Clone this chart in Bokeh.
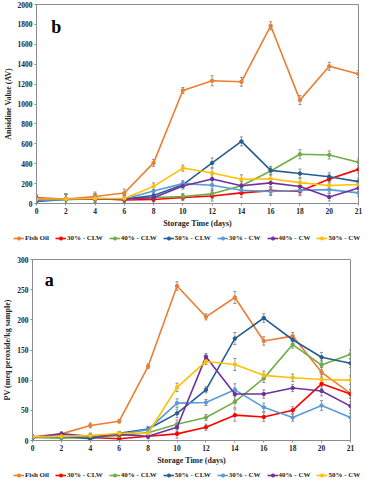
from bokeh.plotting import figure
from bokeh.layouts import column
from bokeh.models import (FixedTicker, Legend, LegendItem, Whisker, ColumnDataSource,
                          Label, Range1d)
from bokeh.embed import file_html
from bokeh.resources import INLINE

# ---------------- data ----------------
days = ["0", "2", "4", "6", "8", "10", "12", "14", "16", "18", "20", "21"]
series_names = ["Fish Oil", "30% - CLW", "40% - CLW", "50% - CLW", "30% - CW", "40% - CW", "50% - CW"]
series_colors = ["#ED7D31", "#FF0000", "#70AD47", "#255E91", "#5B9BD5", "#7030A0", "#FFC000"]

# (b) Anisidine value
av_fish_oil = [50, 45, 70, 105, 408, 1136, 1233, 1223, 1786, 1039, 1379, 1301]
av_30_clw = [55, 45, 50, 35, 40, 60, 75, 107, 129, 123, 246, 343]
av_40_clw = [40, 45, 50, 45, 60, 70, 97, 178, 327, 495, 488, 414]
av_50_clw = [20, 40, 45, 45, 81, 188, 408, 624, 333, 301, 269, 220]
av_30_cw = [30, 40, 50, 45, 126, 200, 184, 133, 120, 133, 139, 107]
av_40_cw = [40, 45, 45, 45, 58, 175, 246, 178, 207, 171, 65, 155]
av_50_cw = [45, 45, 50, 50, 172, 356, 307, 243, 249, 210, 181, 191]
av_err = [30, 50, 45, 40, 35, 30, 50, 45, 40, 45, 40, 35]

# (a) Peroxide value
pv_fish_oil = [6, 11, 25, 32, 123, 256, 205, 237, 165, 173, 113, 78]
pv_30_clw = [6, 5, 5, 3, 7, 11, 22, 42, 39, 50, 94, 77]
pv_40_clw = [5, 4, 6, 8, 13, 27, 38, 64, 103, 159, 125, 143]
pv_50_clw = [5, 7, 3, 12, 19, 45, 84, 169, 203, 167, 138, 128]
pv_30_cw = [6, 6, 8, 10, 18, 62, 63, 84, 55, 38, 58, 38]
pv_40_cw = [5, 11, 7, 10, 7, 22, 139, 77, 77, 87, 82, 57]
pv_50_cw = [6, 7, 8, 12, 12, 88, 131, 126, 108, 104, 101, 100]
pv_err = [3, 3, 4, 3, 4, 7, 5, 10, 7, 6, 8, 7]

FONT = "Liberation Serif"
TXT = "#262626"
GRAY = "#8C8C8C"


def make_chart(series, err, ymax, yticks, ylabel, letter, letter_pos, height,
               border_top, border_left, border_right):
    p = figure(width=364, height=height, output_backend="svg", toolbar_location=None,
               x_range=Range1d(0, len(days) - 1), y_range=Range1d(0, ymax),
               min_border_top=border_top, min_border_left=border_left,
               min_border_right=border_right, min_border_bottom=24)
    p.frame_align = False
    p.grid.visible = False
    p.outline_line_color = GRAY
    p.outline_line_width = 1
    p.background_fill_color = "white"
    p.border_fill_color = "white"

    xs = list(range(len(days)))
    for name, color, ys in zip(series_names, series_colors, series):
        lo = [y - e for y, e in zip(ys, err)]
        hi = [y + e for y, e in zip(ys, err)]
        src = ColumnDataSource(dict(x=xs, y=ys, lo=lo, hi=hi))
        w = Whisker(base="x", lower="lo", upper="hi", source=src,
                    line_color=GRAY, line_width=0.8)
        w.upper_head.size = 3
        w.lower_head.size = 3
        w.upper_head.line_color = GRAY
        w.lower_head.line_color = GRAY
        p.add_layout(w)
    for name, color, ys in zip(series_names, series_colors, series):
        src = ColumnDataSource(dict(x=xs, y=ys))
        p.line("x", "y", source=src, line_color=color, line_width=1.6)
        p.scatter("x", "y", source=src, marker="circle", size=3.5,
                  fill_color=color, line_color=color)

    p.xaxis.ticker = FixedTicker(ticks=xs)
    p.xaxis.major_label_overrides = {i: d for i, d in enumerate(days)}
    p.yaxis.ticker = FixedTicker(ticks=yticks)
    for ax in (p.xaxis[0], p.yaxis[0]):
        ax.axis_line_color = GRAY
        ax.major_tick_line_color = GRAY
        ax.major_tick_out = 2
        ax.major_tick_in = 0
        ax.minor_tick_line_color = None
        ax.major_label_text_font = FONT
        ax.major_label_text_font_style = "bold"
        ax.major_label_text_font_size = "7.5px"
        ax.major_label_text_color = TXT
        ax.major_label_standoff = 2
        ax.axis_label_text_font = FONT
        ax.axis_label_text_font_style = "bold"
        ax.axis_label_text_font_size = "8px"
        ax.axis_label_text_color = TXT
        ax.axis_label_standoff = 2
    p.xaxis.axis_label = "Storage Time (days)"
    p.yaxis.axis_label = ylabel

    p.add_layout(Label(x=letter_pos[0], y=letter_pos[1], text=letter,
                       text_font=FONT, text_font_style="bold", text_font_size="18px",
                       text_baseline="top", text_color="black"))
    return p


def make_legend(series, height):
    # legend-only strip: the series are drawn outside its visible y-range,
    # so only the legend entries show
    lf = figure(width=364, height=height, output_backend="svg", toolbar_location=None,
                x_axis_type=None, y_axis_type=None, x_range=Range1d(0, len(days) - 1),
                y_range=Range1d(-2, -1), min_border=0, outline_line_color=None)
    lf.frame_align = False
    lf.grid.visible = False
    xs = list(range(len(days)))
    items = []
    for name, color, ys in zip(series_names, series_colors, series):
        src = ColumnDataSource(dict(x=xs, y=ys))
        r1 = lf.line("x", "y", source=src, line_color=color, line_width=1.6)
        r2 = lf.scatter("x", "y", source=src, marker="circle", size=3.5,
                        fill_color=color, line_color=color)
        items.append(LegendItem(label=name, renderers=[r1, r2]))
    lg = Legend(items=items, orientation="horizontal", location=(13, 3),
                label_text_font=FONT, label_text_font_style="bold",
                label_text_font_size="7px", label_text_color=TXT,
                glyph_width=11, glyph_height=8, label_standoff=1, spacing=6,
                padding=0, margin=0, border_line_color=None,
                background_fill_alpha=0, label_height=8)
    lf.add_layout(lg)
    return lf


av_series = [av_fish_oil, av_30_clw, av_40_clw, av_50_clw, av_30_cw, av_40_cw, av_50_cw]
pv_series = [pv_fish_oil, pv_30_clw, pv_40_clw, pv_50_clw, pv_30_cw, pv_40_cw, pv_50_cw]

p_b = make_chart(av_series, av_err, 2000, list(range(0, 2001, 200)), "Anisidine Value (AV)",
                 "b", (0.5, 1870), 230, 4, 20, 6)
leg_b = make_legend(av_series, 15)
p_a = make_chart(pv_series, pv_err, 300, list(range(0, 301, 50)), "PV (meq peroxide/kg sample)",
                 "a", (0.42, 282), 222, 14, 18, 14)
leg_a = make_legend(pv_series, 15)

layout = column(p_b, leg_b, p_a, leg_a, spacing=0)
open("out.html", "w").write(file_html(layout, INLINE))
